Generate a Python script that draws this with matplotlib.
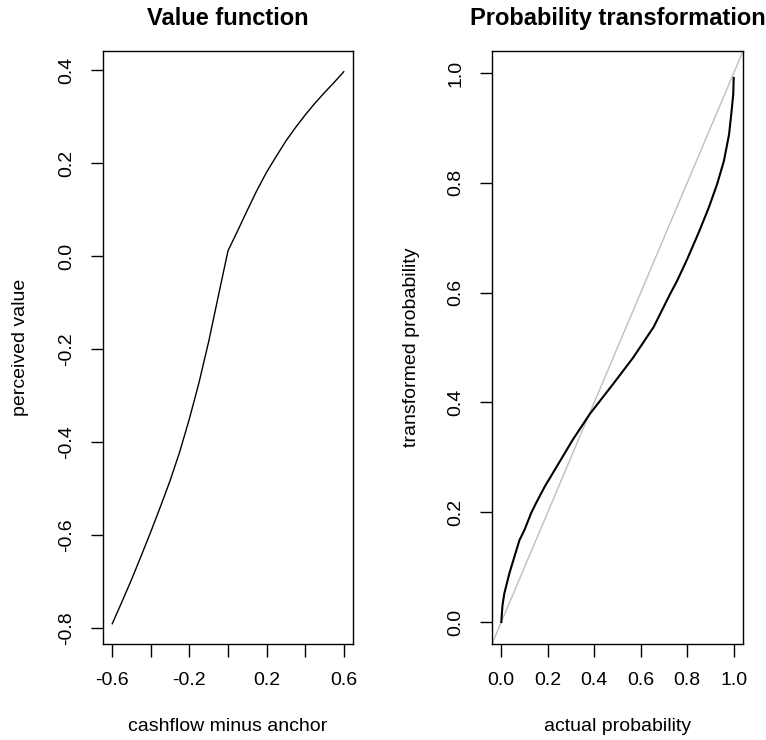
import matplotlib
matplotlib.use("Agg")
import matplotlib.pyplot as plt

plt.rcParams['font.family'] = ['Liberation Sans', 'DejaVu Sans']

# Value function
cashflow = [-0.6, -0.55, -0.5, -0.45, -0.4, -0.35, -0.3, -0.25, -0.2, -0.15, -0.1, -0.05,
            0.0, 0.05, 0.1, 0.15, 0.2, 0.25, 0.3, 0.35, 0.4, 0.45, 0.5, 0.55, 0.6]
perceived = [-0.79, -0.743, -0.695, -0.644, -0.592, -0.538, -0.482, -0.42, -0.349, -0.271, -0.183, -0.085,
             0.012, 0.055, 0.099, 0.142, 0.181, 0.215, 0.248, 0.277, 0.304, 0.329, 0.352, 0.374, 0.397]

# Probability weighting
actual_p = [0.0, 0.005, 0.013, 0.035, 0.05, 0.078, 0.1, 0.128, 0.15, 0.186, 0.244, 0.309, 0.381,
            0.482, 0.568, 0.655, 0.727, 0.756, 0.8, 0.85, 0.893, 0.929, 0.958, 0.98, 0.991, 0.998, 1.0]
transformed_p = [0.0, 0.03, 0.052, 0.089, 0.11, 0.149, 0.168, 0.198, 0.217, 0.246, 0.287, 0.333, 0.379,
                 0.434, 0.482, 0.537, 0.598, 0.621, 0.661, 0.71, 0.755, 0.798, 0.84, 0.888, 0.931, 0.961, 0.991]

x_ticks_left = [-0.6, -0.4, -0.2, 0.0, 0.2, 0.4, 0.6]
x_ticklabels_left = ['-0.6', '', '-0.2', '', '0.2', '', '0.6']
y_ticks_left = [-0.8, -0.6, -0.4, -0.2, 0.0, 0.2, 0.4]
p_ticks = [0.0, 0.2, 0.4, 0.6, 0.8, 1.0]

W, H = 766, 740
fig = plt.figure(figsize=(W / 100, H / 100), dpi=100)

def box(x0, x1, y0, y1):
    return [x0 / W, 1 - y1 / H, (x1 - x0) / W, (y1 - y0) / H]

ax1 = fig.add_axes(box(103, 353, 51, 644))
ax2 = fig.add_axes(box(492, 743, 51, 644))

FS = 14

def style(ax):
    for s in ax.spines.values():
        s.set_linewidth(1.0)
        s.set_color('black')
    ax.tick_params(direction='out', length=9, width=1.0, pad=11, labelsize=FS, colors='black')
    for lab in ax.get_yticklabels():
        lab.set_rotation(90)
        lab.set_va('center')

# Left panel
ax1.plot(cashflow, perceived, color='black', lw=1.0)
ax1.set_xlim(-0.648, 0.648)
ax1.set_ylim(-0.8336, 0.4416)
ax1.set_xticks(x_ticks_left)
ax1.set_xticklabels(x_ticklabels_left)
ax1.set_yticks(y_ticks_left)
ax1.set_yticklabels([f"{v:.1f}" for v in y_ticks_left])
style(ax1)
ax1.set_title('Value function', fontsize=17, fontweight='bold', pad=19)
ax1.set_xlabel('cashflow minus anchor', fontsize=FS)
ax1.set_ylabel('perceived value', fontsize=FS)
ax1.xaxis.set_label_coords(0.5, -0.125)
ax1.yaxis.set_label_coords(-0.295, 0.5)

# Right panel
ax2.axline((0, 0), slope=1, color='#BEBEBE', lw=1.0)
ax2.plot(actual_p, transformed_p, color='black', lw=1.5)
ax2.set_xlim(-0.04, 1.04)
ax2.set_ylim(-0.04, 1.04)
ax2.set_xticks(p_ticks)
ax2.set_xticklabels([f"{v:.1f}" for v in p_ticks])
ax2.set_yticks(p_ticks)
ax2.set_yticklabels([f"{v:.1f}" for v in p_ticks])
style(ax2)
ax2.set_title('Probability transformation', fontsize=17, fontweight='bold', pad=19)
ax2.set_xlabel('actual probability', fontsize=FS)
ax2.set_ylabel('transformed probability', fontsize=FS)
ax2.xaxis.set_label_coords(0.5, -0.125)
ax2.yaxis.set_label_coords(-0.285, 0.5)

fig.savefig('out.png', dpi=100)
